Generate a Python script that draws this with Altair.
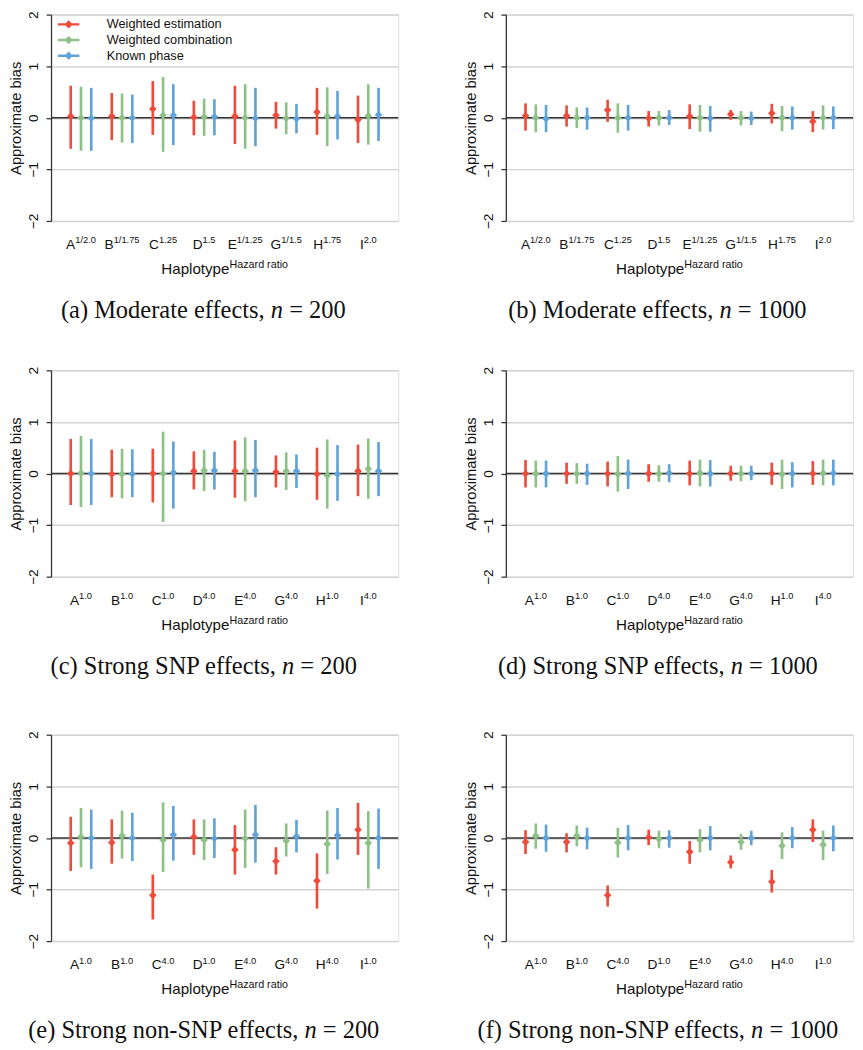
import altair as alt
import pandas as pd

SANS = "Liberation Sans"
SERIF = "Liberation Serif"

SERIES = ["Weighted estimation", "Weighted combination", "Known phase"]
COLORS = ["#EF4A3A", "#8DC186", "#5FA3D8"]
LETTERS = ["A", "B", "C", "D", "E", "G", "H", "I"]

SUP_MOD = ["1/2.0", "1/1.75", "1.25", "1.5", "1/1.25", "1/1.5", "1.75", "2.0"]
SUP_SNP = ["1.0", "1.0", "1.0", "4.0", "4.0", "4.0", "1.0", "4.0"]
SUP_NON = ["1.0", "1.0", "4.0", "1.0", "4.0", "4.0", "4.0", "1.0"]

# (a) Moderate effects, n = 200
a_est_we = [0.03, 0.03, 0.17, 0.01, 0.03, 0.05, 0.11, -0.04]
a_lo_we = [-0.60, -0.43, -0.33, -0.34, -0.51, -0.21, -0.33, -0.49]
a_hi_we = [0.62, 0.48, 0.71, 0.33, 0.62, 0.31, 0.58, 0.43]
a_est_wc = [0.00, 0.00, 0.05, 0.02, 0.00, -0.01, 0.03, 0.04]
a_lo_wc = [-0.64, -0.48, -0.66, -0.35, -0.60, -0.32, -0.55, -0.52]
a_hi_wc = [0.60, 0.47, 0.79, 0.37, 0.65, 0.30, 0.59, 0.65]
a_est_kp = [-0.01, 0.00, 0.05, 0.02, -0.01, -0.02, 0.03, 0.06]
a_lo_kp = [-0.64, -0.49, -0.53, -0.34, -0.55, -0.30, -0.42, -0.45]
a_hi_kp = [0.58, 0.45, 0.65, 0.36, 0.58, 0.27, 0.52, 0.58]

# (b) Moderate effects, n = 1000
b_est_we = [0.04, 0.04, 0.15, -0.01, 0.03, 0.07, 0.09, -0.07]
b_lo_we = [-0.25, -0.17, -0.08, -0.17, -0.22, -0.04, -0.11, -0.28]
b_hi_we = [0.28, 0.24, 0.35, 0.13, 0.26, 0.15, 0.27, 0.13]
b_est_wc = [0.00, 0.00, 0.00, 0.00, 0.00, 0.00, 0.00, 0.00]
b_lo_wc = [-0.28, -0.20, -0.29, -0.15, -0.27, -0.15, -0.26, -0.23]
b_hi_wc = [0.26, 0.20, 0.28, 0.13, 0.25, 0.13, 0.23, 0.24]
b_est_kp = [-0.02, 0.00, 0.00, 0.00, -0.01, -0.01, 0.00, 0.00]
b_lo_kp = [-0.28, -0.23, -0.25, -0.14, -0.27, -0.14, -0.23, -0.22]
b_hi_kp = [0.25, 0.20, 0.25, 0.15, 0.23, 0.12, 0.22, 0.22]

# (c) Strong SNP effects, n = 200
c_est_we = [0.00, -0.01, 0.00, 0.05, 0.05, 0.03, -0.01, 0.05]
c_lo_we = [-0.61, -0.46, -0.56, -0.31, -0.47, -0.27, -0.51, -0.44]
c_hi_we = [0.67, 0.46, 0.48, 0.43, 0.64, 0.35, 0.50, 0.56]
c_est_wc = [0.01, -0.01, 0.00, 0.06, 0.05, 0.05, -0.04, 0.09]
c_lo_wc = [-0.65, -0.48, -0.94, -0.34, -0.54, -0.32, -0.68, -0.49]
c_hi_wc = [0.73, 0.48, 0.81, 0.46, 0.70, 0.41, 0.66, 0.68]
c_est_kp = [0.00, -0.01, 0.02, 0.06, 0.06, 0.05, -0.01, 0.05]
c_lo_kp = [-0.61, -0.46, -0.68, -0.31, -0.46, -0.28, -0.53, -0.44]
c_hi_kp = [0.67, 0.47, 0.62, 0.42, 0.65, 0.37, 0.55, 0.61]

# (d) Strong SNP effects, n = 1000
d_est_we = [0.00, 0.00, 0.00, 0.00, 0.00, 0.00, 0.00, 0.00]
d_lo_we = [-0.27, -0.20, -0.25, -0.16, -0.23, -0.14, -0.22, -0.22]
d_hi_we = [0.26, 0.21, 0.23, 0.18, 0.25, 0.15, 0.21, 0.24]
d_est_wc = [0.00, 0.00, -0.01, 0.00, 0.01, 0.00, -0.01, 0.01]
d_lo_wc = [-0.27, -0.20, -0.35, -0.16, -0.25, -0.15, -0.30, -0.23]
d_hi_wc = [0.25, 0.20, 0.34, 0.16, 0.27, 0.15, 0.27, 0.27]
d_est_kp = [0.00, 0.00, 0.00, 0.01, 0.00, 0.00, 0.00, 0.01]
d_lo_kp = [-0.27, -0.22, -0.30, -0.17, -0.25, -0.13, -0.27, -0.23]
d_hi_kp = [0.25, 0.19, 0.27, 0.18, 0.26, 0.15, 0.22, 0.27]

# (e) Strong non-SNP effects, n = 200
e_est_we = [-0.10, -0.09, -1.11, 0.02, -0.23, -0.45, -0.83, 0.16]
e_lo_we = [-0.64, -0.50, -1.58, -0.33, -0.71, -0.71, -1.37, -0.33]
e_hi_we = [0.41, 0.36, -0.71, 0.36, 0.25, -0.18, -0.30, 0.68]
e_est_wc = [0.02, 0.04, -0.04, -0.04, -0.01, -0.06, -0.12, -0.10]
e_lo_wc = [-0.57, -0.40, -0.66, -0.43, -0.58, -0.36, -0.70, -0.98]
e_hi_wc = [0.58, 0.53, 0.69, 0.36, 0.55, 0.28, 0.53, 0.52]
e_est_kp = [0.00, 0.00, 0.06, -0.01, 0.06, 0.03, 0.05, 0.00]
e_lo_kp = [-0.60, -0.45, -0.44, -0.39, -0.48, -0.28, -0.42, -0.60]
e_hi_kp = [0.55, 0.49, 0.62, 0.38, 0.64, 0.35, 0.58, 0.57]

# (f) Strong non-SNP effects, n = 1000
f_est_we = [-0.08, -0.08, -1.11, 0.01, -0.27, -0.47, -0.85, 0.16]
f_lo_we = [-0.31, -0.28, -1.33, -0.14, -0.50, -0.59, -1.06, -0.08]
f_hi_we = [0.15, 0.09, -0.92, 0.16, -0.06, -0.34, -0.62, 0.36]
f_est_wc = [0.04, 0.04, -0.09, -0.02, -0.04, -0.08, -0.15, -0.13]
f_lo_wc = [-0.21, -0.16, -0.38, -0.20, -0.28, -0.23, -0.41, -0.43]
f_hi_wc = [0.28, 0.24, 0.20, 0.14, 0.17, 0.08, 0.11, 0.14]
f_est_kp = [0.00, 0.00, 0.00, 0.00, 0.00, 0.00, 0.00, 0.00]
f_lo_kp = [-0.27, -0.22, -0.24, -0.19, -0.24, -0.14, -0.20, -0.26]
f_hi_kp = [0.26, 0.20, 0.25, 0.15, 0.23, 0.14, 0.21, 0.24]

PANELS = [
    ("(a)", "Moderate effects,", "200", SUP_MOD,
     [(a_est_we, a_lo_we, a_hi_we), (a_est_wc, a_lo_wc, a_hi_wc), (a_est_kp, a_lo_kp, a_hi_kp)]),
    ("(b)", "Moderate effects,", "1000", SUP_MOD,
     [(b_est_we, b_lo_we, b_hi_we), (b_est_wc, b_lo_wc, b_hi_wc), (b_est_kp, b_lo_kp, b_hi_kp)]),
    ("(c)", "Strong SNP effects,", "200", SUP_SNP,
     [(c_est_we, c_lo_we, c_hi_we), (c_est_wc, c_lo_wc, c_hi_wc), (c_est_kp, c_lo_kp, c_hi_kp)]),
    ("(d)", "Strong SNP effects,", "1000", SUP_SNP,
     [(d_est_we, d_lo_we, d_hi_we), (d_est_wc, d_lo_wc, d_hi_wc), (d_est_kp, d_lo_kp, d_hi_kp)]),
    ("(e)", "Strong non-SNP effects,", "200", SUP_NON,
     [(e_est_we, e_lo_we, e_hi_we), (e_est_wc, e_lo_wc, e_hi_wc), (e_est_kp, e_lo_kp, e_hi_kp)]),
    ("(f)", "Strong non-SNP effects,", "1000", SUP_NON,
     [(f_est_we, f_lo_we, f_hi_we), (f_est_wc, f_lo_wc, f_hi_wc), (f_est_kp, f_lo_kp, f_hi_kp)]),
]

# approximate glyph widths (em) for text layout of superscript labels / captions
ARIAL = {"A": .667, "B": .667, "C": .722, "D": .722, "E": .667, "G": .778, "H": .722,
         "I": .278, "/": .278, ".": .278}
TIMES = {"(": .333, ")": .333, "a": .444, "b": .5, "c": .444, "d": .5, "e": .444, "f": .333,
         "s": .389, "t": .278, "o": .5, "r": .333, "n": .5, "g": .5, "M": .889, "S": .556,
         "N": .722, "P": .556, ",": .25, " ": .25, "-": .333, "=": .564}


def tw(s, table, size, default=.556):
    return sum(table.get(ch, default) for ch in s) * size


W, H = 355, 211
LET_FS, SUP_FS = 14, 9.5
CAP_FS = 25

xscale = alt.Scale(domain=LETTERS, paddingInner=0, paddingOuter=0.23)
xoff = alt.Scale(domain=SERIES, paddingInner=0, paddingOuter=0.5)
yscale = alt.Scale(domain=[-2, 2], nice=False, zero=False)
cscale = alt.Scale(domain=SERIES, range=COLORS)

yaxis = alt.Axis(values=[-2, -1, 0, 1, 2], format="d", title="Approximate bias",
                 grid=True, gridColor="#d3d3d3", gridWidth=1.5,
                 domainColor="#333333", domainWidth=1.3, tickColor="#333333",
                 tickWidth=1.3, tickSize=5, labelAngle=-90, labelAlign="center",
                 labelBaseline="bottom", labelFont=SANS, labelFontSize=14,
                 labelColor="#111111", labelPadding=6, titleFont=SANS,
                 titleFontSize=15, titleFontWeight="normal", titleColor="#111111",
                 titlePadding=3)

LEGEND = alt.Legend(title=None, orient="none", legendX=11, legendY=3,
                    symbolType="M-2,0L2,0M0,-0.45L0.45,0L0,0.45L-0.45,0Z",
                    symbolSize=121, symbolStrokeWidth=2.5, labelFont=SANS,
                    labelFontSize=13, labelColor="#111111", labelOffset=32,
                    rowPadding=0, padding=0)


def panel(tag, desc, n, sups, series_data, with_legend):
    rows = []
    for s, (est, lo, hi) in zip(SERIES, series_data):
        for L, e, l, h in zip(LETTERS, est, lo, hi):
            rows.append({"letter": L, "series": s, "est": e, "lo": l, "hi": h})
    df = pd.DataFrame(rows)

    labs = pd.DataFrame({
        "letter": LETTERS,
        "sup": sups,
        "jx": [(tw(L, ARIAL, LET_FS) - tw(sp, ARIAL, SUP_FS)) / 2 for L, sp in zip(LETTERS, sups)],
    })

    zero = alt.Chart(pd.DataFrame({"v": [0]})).mark_rule(
        color="#333333", strokeWidth=1.5).encode(
        y=alt.Y("v:Q", scale=yscale, axis=yaxis))

    enc_x = alt.X("letter:N", scale=xscale, axis=None)
    enc_xo = alt.XOffset("series:N", scale=xoff)

    bars = alt.Chart(df).mark_rule(strokeWidth=2.7).encode(
        x=enc_x, xOffset=enc_xo,
        y=alt.Y("lo:Q", scale=yscale, axis=yaxis), y2="hi:Q",
        color=alt.Color("series:N", scale=cscale, legend=LEGEND if with_legend else None))

    pts = alt.Chart(df).mark_point(shape="diamond", filled=True, size=60, opacity=1).encode(
        x=enc_x, xOffset=enc_xo,
        y=alt.Y("est:Q", scale=yscale, axis=yaxis),
        color=alt.Color("series:N", scale=cscale, legend=None))

    lab_l = alt.Chart(labs).mark_text(
        align="right", baseline="alphabetic", font=SANS, fontSize=LET_FS,
        color="#111111", dx=alt.ExprRef(expr="datum.jx"), y=H + 29).encode(
        x=alt.X("letter:N", scale=xscale, axis=None), text="letter:N")
    lab_s = alt.Chart(labs).mark_text(
        align="left", baseline="alphabetic", font=SANS, fontSize=SUP_FS,
        color="#111111", dx=alt.ExprRef(expr="datum.jx"), y=H + 23).encode(
        x=alt.X("letter:N", scale=xscale, axis=None), text="sup:N")

    one = pd.DataFrame({"k": [0]})
    jt = W / 2 + (tw("Haplotype", {"H": .722, "a": .556, "p": .556, "l": .222, "o": .556,
                                    "t": .278, "y": .5, "e": .556}, 15.5)
                  - tw("Hazard ratio", {"H": .722, "a": .556, "z": .5, "r": .333, "d": .556,
                                        " ": .278, "t": .278, "i": .222, "o": .556}, 11)) / 2
    xt1 = alt.Chart(one).mark_text(align="right", baseline="alphabetic", font=SANS,
                                   fontSize=15.5, color="#111111").encode(
        x=alt.value(jt), y=alt.value(H + 54), text=alt.value("Haplotype"))
    xt2 = alt.Chart(one).mark_text(align="left", baseline="alphabetic", font=SANS,
                                   fontSize=11, color="#111111").encode(
        x=alt.value(jt), y=alt.value(H + 48), text=alt.value("Hazard ratio"))

    pre = f"{tag} {desc}"
    suf = f"= {n}"
    sp = tw(" ", TIMES, CAP_FS)
    total = tw(pre, TIMES, CAP_FS) + sp + 0.5 * CAP_FS + sp + tw(suf, TIMES, CAP_FS)
    start = 157.5 - total / 2
    jn = start + tw(pre, TIMES, CAP_FS) + sp
    cy = H + 99
    cap1 = alt.Chart(one).mark_text(align="right", baseline="alphabetic", font=SERIF,
                                    fontSize=CAP_FS, color="#111111").encode(
        x=alt.value(jn - sp), y=alt.value(cy), text=alt.value(pre))
    cap2 = alt.Chart(one).mark_text(align="left", baseline="alphabetic", font=SERIF,
                                    fontStyle="italic", fontSize=CAP_FS, color="#111111").encode(
        x=alt.value(jn), y=alt.value(cy), text=alt.value("n"))
    cap3 = alt.Chart(one).mark_text(align="left", baseline="alphabetic", font=SERIF,
                                    fontSize=CAP_FS, color="#111111").encode(
        x=alt.value(jn + 0.5 * CAP_FS + sp), y=alt.value(cy), text=alt.value(suf))

    return alt.layer(zero, bars, pts, lab_l, lab_s, xt1, xt2, cap1, cap2, cap3).properties(
        width=W, height=H)


charts = [panel(t, d, n, s, sd, i == 0) for i, (t, d, n, s, sd) in enumerate(PANELS)]


def indep(c):
    return c.resolve_scale(color="independent").resolve_legend(color="independent")


rows = [indep(alt.hconcat(charts[2 * r], charts[2 * r + 1], spacing=64)) for r in range(3)]

lower = indep(alt.vconcat(rows[1], rows[2], spacing=51.6))

chart = (
    indep(alt.vconcat(rows[0], lower, spacing=42.7))
    .properties(padding={"left": 0, "top": -10, "right": 0, "bottom": 0})
    .configure_view(strokeWidth=0)
    .configure(background="white")
)

chart.save("out.html", embed_options={"renderer": "svg", "actions": False})
